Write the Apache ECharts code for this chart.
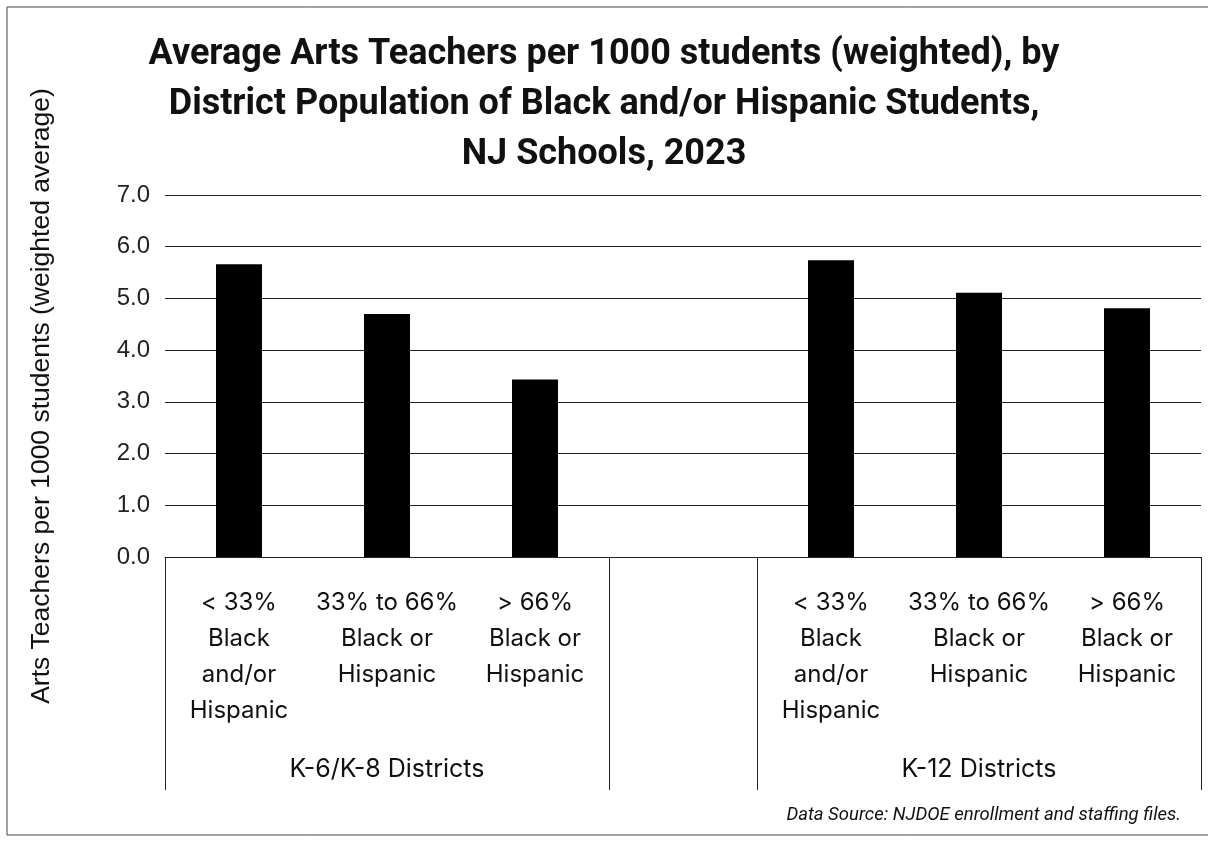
<!DOCTYPE html>
<html>
<head>
<meta charset="utf-8">
<script src="https://cdn.jsdelivr.net/npm/echarts@6/dist/echarts.min.js"></script>
<style>
  html, body { margin: 0; padding: 0; background: #ffffff; }
  #chart { width: 1208px; height: 843px; }
</style>
</head>
<body>
<div id="chart"></div>
<script>
// categories (slot 3 is the empty gap between the two district groups)
const categories = [
  '< 33%\nBlack\nand/or\nHispanic',
  '33% to 66%\nBlack or\nHispanic',
  '> 66%\nBlack or\nHispanic',
  '',
  '< 33%\nBlack\nand/or\nHispanic',
  '33% to 66%\nBlack or\nHispanic',
  '> 66%\nBlack or\nHispanic'
]
// group labels, placed under the middle slot of each group
const groupLabels = ['', 'K-6/K-8 Districts', '', '', '', 'K-12 Districts', '']
// arts teachers per 1000 students (weighted average)
const values = [5.66, 4.70, 3.43, null, 5.74, 5.11, 4.81]
// y ticks
const yTicks = [0, 1, 2, 3, 4, 5, 6, 7]

const titleText = 'Average Arts Teachers per 1000 students (weighted), by\nDistrict Population of Black and/or Hispanic Students,\nNJ Schools, 2023'
const yName = 'Arts Teachers per 1000 students (weighted average)'
const sourceText = 'Data Source: NJDOE enrollment and staffing files.'

const myChart = echarts.init(document.getElementById('chart'))

const labelFont = 'Inter'

const options = {
  backgroundColor: '#ffffff',
  animation: false,
  title: [
    {
      text: titleText,
      left: 'center',
      top: 25,
      textStyle: {
        fontFamily: 'Roboto',
        fontWeight: 'bold',
        fontSize: 36,
        lineHeight: 50,
        color: '#111111'
      }
    },
    {
      text: sourceText,
      right: 22,
      bottom: 13,
      textStyle: {
        fontFamily: 'Roboto',
        fontStyle: 'italic',
        fontWeight: 'normal',
        fontSize: 18.5,
        color: '#111111'
      }
    }
  ],
  // thin frame round the picture
  graphic: [{
    type: 'rect',
    shape: { x: 7, y: 7, width: 1220, height: 828 },
    style: { fill: 'none', stroke: '#444444', lineWidth: 1 },
    silent: true
  }],
  grid: {
    left: 165,
    right: 7,
    top: 195,
    bottom: 286,
    containLabel: false
  },
  xAxis: [
    {
      type: 'category',
      data: categories,
      boundaryGap: true,
      axisLine: { show: true, lineStyle: { color: '#222222', width: 1 } },
      // long ticks act as the group separators below the axis
      axisTick: {
        show: true,
        length: 233,
        interval: function (index) {
          return index === 0 || index === 3 || index === 4
        },
        lineStyle: { color: '#222222', width: 1 }
      },
      axisLabel: {
        interval: 0,
        margin: 28,
        fontFamily: labelFont,
        fontSize: 24,
        lineHeight: 36,
        color: '#111111',
        align: 'center'
      }
    },
    {
      type: 'category',
      data: groupLabels,
      position: 'bottom',
      offset: 0,
      boundaryGap: true,
      axisLine: { show: false },
      axisTick: { show: false },
      axisLabel: {
        interval: 0,
        margin: 200,
        fontFamily: labelFont,
        fontSize: 25,
        color: '#111111'
      }
    }
  ],
  yAxis: {
    type: 'value',
    min: yTicks[0],
    max: yTicks[yTicks.length - 1],
    interval: 1,
    name: yName,
    nameLocation: 'middle',
    nameGap: 110,
    nameTextStyle: {
      fontFamily: 'Liberation Sans',
      fontSize: 26.5,
      color: '#111111',
      padding: [0, 40, 0, 0]
    },
    axisLine: { show: false },
    axisTick: { show: false },
    axisLabel: {
      margin: 15,
      fontFamily: 'Liberation Sans',
      fontSize: 24,
      color: '#222222',
      formatter: function (v) { return v.toFixed(1) }
    },
    splitLine: {
      show: true,
      lineStyle: { color: '#222222', width: 1 }
    }
  },
  series: [{
    type: 'bar',
    xAxisIndex: 0,
    data: values,
    barWidth: 46,
    itemStyle: { color: '#000000' }
  }]
}

myChart.setOption(options)
</script>
</body>
</html>
